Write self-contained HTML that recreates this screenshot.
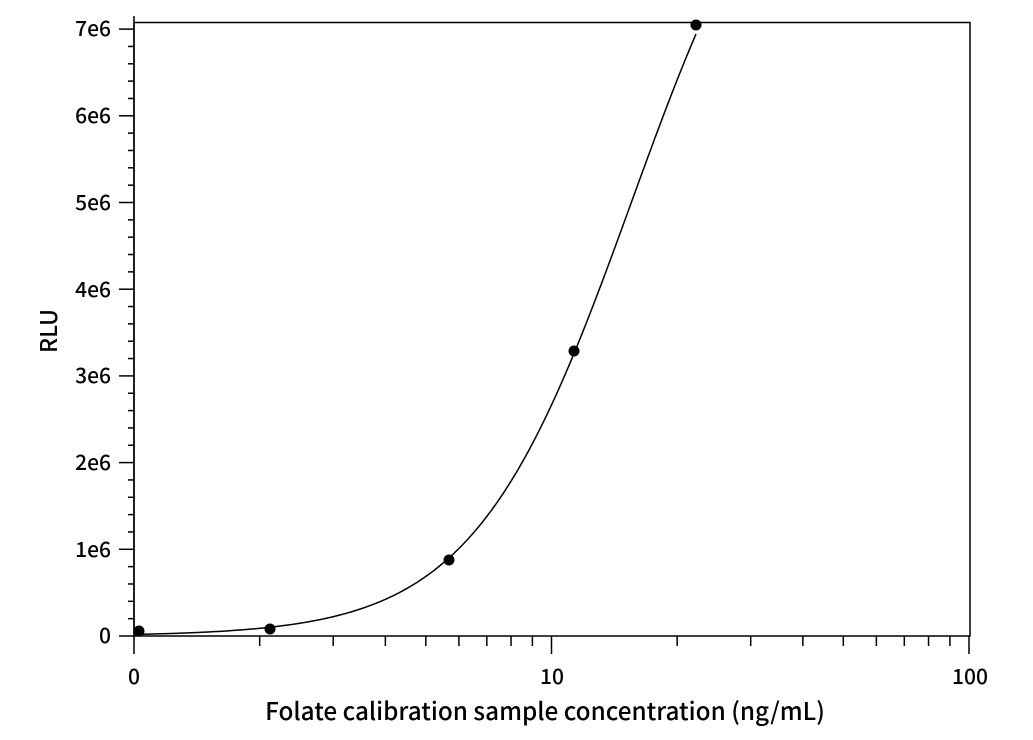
<!DOCTYPE html>
<html><head><meta charset="utf-8"><style>
html,body{margin:0;padding:0;background:#fff;}
svg text{font-family:"Noto Sans CJK JP","DejaVu Sans","Liberation Sans",sans-serif;font-weight:500;fill:#000;}
</style></head><body>
<svg id="s" width="1033" height="735" viewBox="0 0 1033 735" xmlns="http://www.w3.org/2000/svg">
<rect x="134" y="22.5" width="836" height="613.5" fill="none" stroke="#000" stroke-width="1.5"/>
<line x1="134" y1="16" x2="134" y2="637" stroke="#000" stroke-width="1.5"/>
<g id="ticks" stroke="#000" stroke-width="1.5"></g>
<path id="curve" fill="none" stroke="#000" stroke-width="1.5"/>
<g fill="#000">
<circle cx="139" cy="631" r="5.5"/>
<circle cx="270" cy="629" r="5.5"/>
<circle cx="449" cy="560" r="5.5"/>
<circle cx="574" cy="351" r="5.5"/>
<circle cx="696" cy="25" r="5.5"/>
</g>
<g font-size="21" text-anchor="end">
<text x="111" y="643">0</text>
<text x="111" y="557">1e6</text>
<text x="111" y="470">2e6</text>
<text x="111" y="383">3e6</text>
<text x="111" y="297">4e6</text>
<text x="111" y="210">5e6</text>
<text x="111" y="123">6e6</text>
<text x="111" y="36">7e6</text>
</g>
<g font-size="21" text-anchor="middle">
<text x="134" y="684">0</text>
<text x="552" y="684">10</text>
<text x="970" y="684">100</text>
</g>
<text x="545" y="720" font-size="24.3" text-anchor="middle">Folate calibration sample concentration (ng/mL)</text>
<text transform="translate(57,331) rotate(-90)" font-size="23" text-anchor="middle">RLU</text>
</svg>
<script>
var t=document.getElementById('ticks'),h='';
function px(x){return 134+417.5*Math.log10(x);}
function py(v){return 636-86.7*v;}
for(var d=1;d<=10;d*=10){for(var k=1;k<=10;k++){var x=px(k*d);var L=(k==1||k==10)?18:10;if(d==10&&k==1)continue;h+='<line x1="'+x+'" y1="636" x2="'+x+'" y2="'+(636+L)+'"/>';}}
for(var i=0;i<=35;i++){var y=py(i/5);var L=(i%5==0)?15:6;h+='<line x1="'+(134-L)+'" y1="'+y+'" x2="134" y2="'+y+'"/>';}
t.innerHTML=h;
var d='';
for(var p=134;p<=696;p+=2){var x=Math.pow(10,(p-134)/417.5);var v=10/(1+Math.pow(15.53/x,2.3));d+=(p==134?'M':'L')+p+','+py(v).toFixed(2);}
document.getElementById('curve').setAttribute('d',d);
</script>
</body></html>
